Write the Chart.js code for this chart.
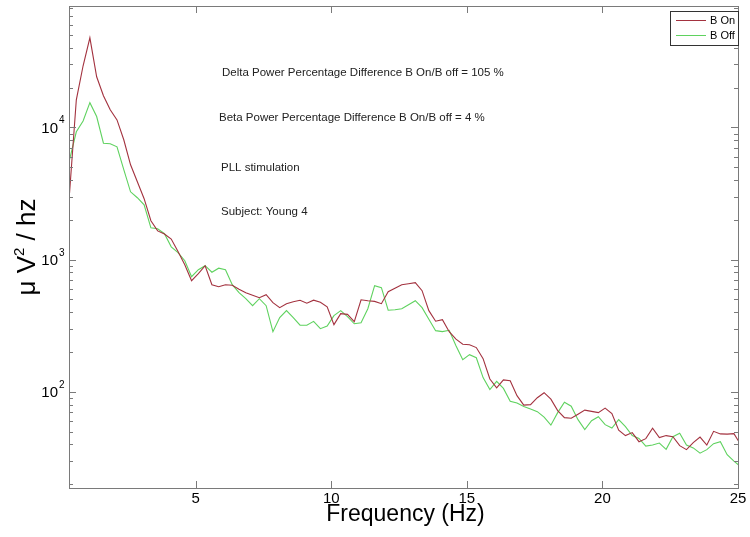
<!DOCTYPE html>
<html>
<head>
<meta charset="utf-8">
<script src="https://cdn.jsdelivr.net/npm/chart.js@4"></script>
<style>
  html, body { margin: 0; padding: 0; background: #fff; }
  #wrap { width: 750px; height: 537px; }
</style>
</head>
<body>
<div id="wrap"><canvas id="chart" width="750" height="537"></canvas></div>
<script>
// frequency bins (Hz)
const freqs = [
  0.35, 0.6, 0.85, 1.1, 1.35, 1.6, 1.85, 2.1, 2.35, 2.6,
  2.85, 3.1, 3.35, 3.6, 3.85, 4.1, 4.35, 4.6, 4.85, 5.1,
  5.35, 5.6, 5.85, 6.1, 6.35, 6.6, 6.85, 7.1, 7.35, 7.6,
  7.85, 8.1, 8.35, 8.6, 8.85, 9.1, 9.35, 9.6, 9.85, 10.1,
  10.35, 10.6, 10.85, 11.1, 11.35, 11.6, 11.85, 12.1, 12.35, 12.6,
  12.85, 13.1, 13.35, 13.6, 13.85, 14.1, 14.35, 14.6, 14.85, 15.1,
  15.35, 15.6, 15.85, 16.1, 16.35, 16.6, 16.85, 17.1, 17.35, 17.6,
  17.85, 18.1, 18.35, 18.6, 18.85, 19.1, 19.35, 19.6, 19.85, 20.1,
  20.35, 20.6, 20.85, 21.1, 21.35, 21.6, 21.85, 22.1, 22.35, 22.6,
  22.85, 23.1, 23.35, 23.6, 23.85, 24.1, 24.35, 24.6, 24.85, 25.1
];

// power, uV^2/hz
const bOn = [
  3200, 16200, 29300, 47700, 24200, 17400, 13600, 11400, 8070, 5220,
  3880, 2890, 1970, 1650, 1560, 1430, 1150, 915, 692, 782,
  899, 646, 624, 646, 640, 597, 562, 538, 515, 543,
  472, 433, 464, 480, 493, 468, 493, 476, 440, 322,
  390, 385, 339, 497, 489, 483, 464, 572, 608, 646,
  657, 669, 582, 411, 342, 351, 285, 250, 229, 227,
  216, 178, 125, 107, 123, 121, 93.4, 79.2, 79.9, 90.2,
  98.4, 87.9, 72.0, 63.7, 63, 67.7, 72.6, 71.1, 69.5, 75.2,
  68.3, 51.2, 46.6, 49.1, 41.9, 44.2, 53.0, 45.0, 46.6, 45.7,
  39.1, 36.5, 41.2, 45.4, 39.5, 50.2, 48.0, 47.8, 48.2, 39.8
];

const bOff = [
  5700, 9280, 11200, 15400, 12100, 7600, 7530, 7140, 4790, 3260,
  2940, 2600, 1740, 1710, 1570, 1250, 1130, 981, 743, 839,
  899, 803, 861, 839, 646, 562, 506, 448, 506, 448,
  285, 364, 411, 364, 319, 319, 341, 300, 314, 377,
  411, 370, 327, 333, 425, 635, 613, 414, 418, 425,
  456, 489, 433, 354, 290, 285, 292, 223, 175, 191,
  181, 128, 104, 120, 106, 84.6, 82.1, 77.4, 74.0, 70.7,
  64.3, 55.9, 69.5, 83.4, 77.8, 61.5, 51.7, 60.4, 64.8, 56.4,
  53.2, 61.5, 54.5, 46.6, 44.4, 38.8, 39.5, 40.9, 36.7, 45.7,
  48.6, 39.5, 37.6, 34.3, 36.5, 40.5, 41.9, 33.4, 29.9, 27.1
];

const xTicks = [5, 10, 15, 20, 25];
const yDecades = [2, 3, 4];   // 10^2, 10^3, 10^4
const yMinor = [
  20, 30, 40, 50, 60, 70, 80, 90,
  200, 300, 400, 500, 600, 700, 800, 900,
  2000, 3000, 4000, 5000, 6000, 7000, 8000, 9000,
  20000, 30000, 40000, 50000, 60000, 70000, 80000
];
const seriesNames = ['B On', 'B Off'];
const notes = [
  'Delta Power Percentage Difference B On/B off = 105 %',
  'Beta Power Percentage Difference B On/B off = 4 %',
  'PLL stimulation',
  'Subject: Young 4'
];

const RED = '#a3323f';
const GREEN = '#5fd25f';
const AXIS = '#7a7a7a';
const FONT = '"Liberation Sans", Arial, sans-serif';

const toPoints = (vals) => vals.map((v, i) => ({ x: freqs[i], y: v }));

// matlab style box, inward ticks, labels, notes and legend
const matlabAxes = {
  id: 'matlabAxes',
  afterDraw(chart) {
    const { ctx, chartArea: a, scales } = chart;
    const x = scales.x, y = scales.y;
    ctx.save();

    ctx.strokeStyle = AXIS;
    ctx.lineWidth = 1;
    ctx.strokeRect(a.left + 0.5, a.top + 0.5, a.right - a.left, a.bottom - a.top);

    ctx.beginPath();
    xTicks.forEach(v => {
      const px = Math.round(x.getPixelForValue(v)) + 0.5;
      ctx.moveTo(px, a.bottom); ctx.lineTo(px, a.bottom - 7);
      ctx.moveTo(px, a.top); ctx.lineTo(px, a.top + 7);
    });
    yDecades.forEach(e => {
      const py = Math.round(y.getPixelForValue(Math.pow(10, e))) + 0.5;
      ctx.moveTo(a.left, py); ctx.lineTo(a.left + 7, py);
      ctx.moveTo(a.right, py); ctx.lineTo(a.right - 7, py);
    });
    yMinor.forEach(v => {
      const py = Math.round(y.getPixelForValue(v)) + 0.5;
      if (py < a.top || py > a.bottom) return;
      ctx.moveTo(a.left, py); ctx.lineTo(a.left + 4, py);
      ctx.moveTo(a.right, py); ctx.lineTo(a.right - 4, py);
    });
    ctx.stroke();

    // tick labels
    ctx.fillStyle = '#000';
    ctx.font = '15px ' + FONT;
    ctx.textAlign = 'center';
    ctx.textBaseline = 'middle';
    xTicks.forEach(v => {
      ctx.fillText(String(v), x.getPixelForValue(v), a.bottom + 11);
    });
    yDecades.forEach(e => {
      const py = y.getPixelForValue(Math.pow(10, e));
      ctx.font = '15px ' + FONT;
      ctx.textAlign = 'right';
      ctx.textBaseline = 'middle';
      ctx.fillText('10', a.left - 11, py + 1);
      ctx.font = '10px ' + FONT;
      ctx.textAlign = 'left';
      ctx.textBaseline = 'alphabetic';
      ctx.fillText(String(e), a.left - 10, py - 4);
    });

    // axis titles
    ctx.font = '23px ' + FONT;
    ctx.textAlign = 'center';
    ctx.textBaseline = 'alphabetic';
    ctx.fillText('Frequency (Hz)', (a.left + a.right) / 2 + 2, a.bottom + 33);

    ctx.save();
    ctx.translate(35, (a.top + a.bottom) / 2);
    ctx.rotate(-Math.PI / 2);
    const p1 = '\u03bc V', p2 = '2', p3 = ' / hz';
    ctx.font = '26px ' + FONT;
    const w1 = ctx.measureText(p1).width, w3 = ctx.measureText(p3).width;
    ctx.font = '15px ' + FONT;
    const w2 = ctx.measureText(p2).width;
    let sx = -(w1 + w2 + w3) / 2;
    ctx.textAlign = 'left';
    ctx.font = '26px ' + FONT;
    ctx.fillText(p1, sx, 0); sx += w1;
    ctx.font = '15px ' + FONT;
    ctx.fillText(p2, sx, -11); sx += w2;
    ctx.font = '26px ' + FONT;
    ctx.fillText(p3, sx, 0);
    ctx.restore();

    // notes
    const notePos = [[222, 73], [219, 118], [221, 168], [221, 212]];
    ctx.fillStyle = '#222';
    ctx.font = '11.5px ' + FONT;
    ctx.textAlign = 'left';
    ctx.textBaseline = 'middle';
    notes.forEach((t, i) => ctx.fillText(t, notePos[i][0], notePos[i][1]));

    // legend
    const lx = 670, ly = 11, lw = a.right - lx, lh = 34;
    ctx.fillStyle = '#fff';
    ctx.fillRect(lx, ly, lw, lh);
    ctx.strokeStyle = '#333';
    ctx.strokeRect(lx + 0.5, ly + 0.5, lw, lh);
    const colors = [RED, GREEN];
    ctx.font = '11px ' + FONT;
    seriesNames.forEach((n, i) => {
      const yy = ly + 9.5 + i * 15;
      ctx.strokeStyle = colors[i];
      ctx.beginPath();
      ctx.moveTo(lx + 6, yy); ctx.lineTo(lx + 36, yy);
      ctx.stroke();
      ctx.fillStyle = '#000';
      ctx.fillText(n, lx + 40, yy);
    });

    ctx.restore();
  }
};

new Chart(document.getElementById('chart'), {
  type: 'line',
  data: {
    datasets: [
      { label: seriesNames[0], data: toPoints(bOn), borderColor: RED, borderWidth: 1.1, pointRadius: 0, tension: 0, fill: false },
      { label: seriesNames[1], data: toPoints(bOff), borderColor: GREEN, borderWidth: 1.1, pointRadius: 0, tension: 0, fill: false }
    ]
  },
  options: {
    responsive: false,
    animation: false,
    devicePixelRatio: 1,
    layout: { padding: { left: 69, right: 12, top: 6, bottom: 49 } },
    plugins: { legend: { display: false }, tooltip: { enabled: false } },
    scales: {
      x: { type: 'linear', min: 0.33, max: 25, display: false },
      y: { type: 'logarithmic', min: 18.7, max: 83000, display: false }
    }
  },
  plugins: [matlabAxes]
});
</script>
</body>
</html>
